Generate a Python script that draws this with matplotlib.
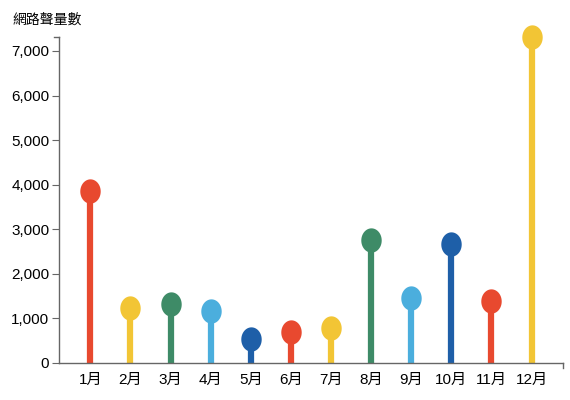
import numpy as np
import matplotlib
matplotlib.use("Agg")
import matplotlib.pyplot as plt
from matplotlib.ticker import FuncFormatter

plt.rcParams['font.family'] = ['Liberation Sans', 'Noto Sans CJK TC', 'DejaVu Sans']

# 資料
months = ['1月', '2月', '3月', '4月', '5月', '6月', '7月', '8月', '9月', '10月', '11月', '12月']
volume = [3860, 1235, 1320, 1165, 540, 695, 785, 2760, 1460, 2670, 1390, 7314]
palette = ['#E8492F', '#F2C535', '#3E8B67', '#4BAEDD', '#1E5FA8']

colors = [palette[i % len(palette)] for i in range(len(months))]
x = np.arange(len(months))

fig = plt.figure(figsize=(5.7, 4), dpi=100)
ax = fig.add_axes([0.1035, 0.0925, 0.884, 0.815])

# 橢圓形的頭
t = np.linspace(0, 2 * np.pi, 60)
ellipse = np.column_stack([0.84 * np.cos(t), np.sin(t)])

ax.vlines(x, 0, volume, colors=colors, linewidth=4.5, zorder=2)
for xi, v, c in zip(x, volume, colors):
    ax.plot(xi, v, marker=ellipse, markersize=17.5, color=c, markeredgewidth=0,
            zorder=3, clip_on=False)

ax.set_xlim(-0.78, len(months) - 1 + 0.78)
ax.set_ylim(0, max(volume))
ax.set_xticks(x)
ax.set_xticklabels(months)
ax.set_yticks(range(0, 7001, 1000))
ax.yaxis.set_major_formatter(FuncFormatter(lambda v, p: f'{int(v):,}'))

for s in ['top', 'right']:
    ax.spines[s].set_visible(False)
for s in ['left', 'bottom']:
    ax.spines[s].set_color('#666666')
    ax.spines[s].set_linewidth(1)

ax.tick_params(axis='y', length=5, color='#666666', labelsize=11, pad=2)
ax.tick_params(axis='x', length=0, labelsize=11, pad=7)

# 軸兩端的小刻度
ax.plot([1, 1], [0, -0.015], transform=ax.transAxes, color='#666666', lw=1, clip_on=False)
ax.plot([0, -0.01], [1, 1], transform=ax.transAxes, color='#666666', lw=1, clip_on=False)

fig.text(0.022, 0.95, '網路聲量數', fontsize=10, va='center', ha='left')

fig.savefig('out.png', dpi=100)
